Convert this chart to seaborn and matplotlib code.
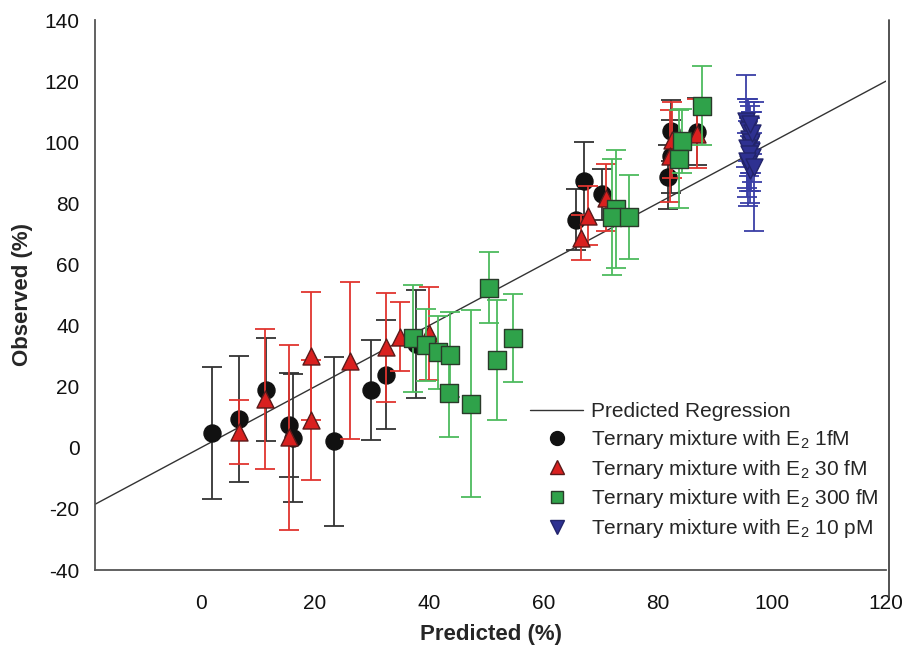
import matplotlib
matplotlib.use("Agg")
import matplotlib.pyplot as plt
from matplotlib.lines import Line2D
import seaborn as sns
import pandas as pd

# ---- data ----
line_x = [-18.5, 120]
line_y = [-18.5, 120]

c1_x = [1.9, 6.8, 11.4, 15.5, 16.2, 23.3, 29.8, 32.4, 37.7, 65.8, 67.2, 70.2, 81.9, 82.3, 82.3, 86.9]
c1_y = [4.8, 9.5, 19.0, 7.5, 3.3, 2.1, 18.9, 23.9, 33.9, 74.7, 87.2, 82.9, 88.6, 95.4, 103.8, 103.4]
c1_e = [21.5, 20.6, 16.9, 17.0, 21.0, 27.6, 16.4, 17.8, 17.6, 10.0, 13.0, 8.4, 10.5, 12.0, 10.0, 11.0]

c30_x = [6.8, 11.3, 15.4, 19.3, 19.3, 26.2, 32.4, 34.9, 39.9, 66.6, 67.9, 70.9, 82.5, 82.2, 86.9]
c30_y = [5.1, 16.0, 3.5, 9.2, 30.1, 28.5, 32.9, 36.4, 37.5, 68.7, 76.0, 81.8, 100.8, 95.4, 102.8]
c30_e = [10.5, 22.8, 30.3, 19.6, 21.0, 25.6, 17.9, 11.2, 15.2, 7.4, 9.6, 11.0, 12.5, 15.0, 11.3]

c300_x = [37.2, 39.5, 41.6, 43.7, 43.5, 47.3, 50.5, 51.9, 54.7, 72.7, 72.0, 75.0, 84.3, 83.8, 87.7]
c300_y = [35.8, 33.7, 31.2, 30.4, 17.9, 14.4, 52.4, 28.8, 36.0, 78.0, 75.6, 75.6, 100.3, 94.5, 112.0]
c300_e = [17.4, 11.7, 11.9, 13.9, 14.4, 30.6, 11.7, 19.6, 14.4, 19.3, 19.0, 13.8, 10.5, 16.0, 13.0]

c10p_x = [95.5, 95.8, 96.0, 96.2, 96.4, 96.6, 95.9, 96.1, 96.3, 95.7, 96.5, 96.0, 95.6, 96.2, 96.8]
c10p_y = [107, 104, 101, 99, 97, 95, 93, 91, 100, 98, 103, 96, 94, 106, 92]
c10p_e = [15, 10, 12, 9, 13, 8, 14, 11, 10, 16, 7, 12, 9, 6, 21]

labels = ["Predicted Regression",
          "Ternary mixture with E$_2$ 1fM",
          "Ternary mixture with E$_2$ 30 fM",
          "Ternary mixture with E$_2$ 300 fM",
          "Ternary mixture with E$_2$ 10 pM"]
x_ticks = [0, 20, 40, 60, 80, 100, 120]
y_ticks = [-40, -20, 0, 20, 40, 60, 80, 100, 120, 140]

# ---- style ----
sns.set_style("white")
plt.rcParams['font.family'] = ['Liberation Sans', 'DejaVu Sans']
plt.rcParams['mathtext.fontset'] = 'custom'
plt.rcParams['mathtext.rm'] = 'Liberation Sans'
plt.rcParams['axes.unicode_minus'] = False

fig = plt.figure(figsize=(9.06, 6.5), dpi=100)
W, H = 906, 650
ax = fig.add_axes([95 / W, 80 / H, (886 - 95) / W, 550 / H])

sns.lineplot(x=line_x, y=line_y, ax=ax, color="#333333", lw=1.0, zorder=2)

series = [
    (c1_x, c1_y, c1_e, "o", "#111111", "#111111", "#333333"),
    (c30_x, c30_y, c30_e, "^", "#d9201f", "#5a1a1a", "#e0352f"),
    (c300_x, c300_y, c300_e, "s", "#2fa24a", "#2a3a2a", "#4dbb5e"),
    (c10p_x, c10p_y, c10p_e, "v", "#2e3191", "#22246a", "#3a3fa6"),
]
z = 3
for xs, ys, es, mk, fc, ec, bc in series:
    ax.errorbar(xs, ys, yerr=es, fmt="none", ecolor=bc, elinewidth=1.3,
                capsize=7, capthick=1.3, zorder=z)
    df = pd.DataFrame({"x": xs, "y": ys})
    sns.scatterplot(data=df, x="x", y="y", ax=ax, marker=mk, s=150,
                    color=fc, edgecolor=ec, linewidth=1.0, zorder=z + 1)
    z += 2

ax.set_xlim(-18.5, 120)
ax.set_ylim(-40, 140)
ax.set_xticks(x_ticks)
ax.set_yticks(y_ticks)
ax.tick_params(axis="both", direction="out", length=7, width=1.2,
               color="#555555", labelsize=15, labelcolor="#111111")
ax.tick_params(axis="x", pad=10)
ax.tick_params(axis="y", pad=4)
for s in ["top", "right"]:
    ax.spines[s].set_visible(False)
for s in ["left", "bottom"]:
    ax.spines[s].set_color("#555555")
    ax.spines[s].set_linewidth(1.3)

ax.set_xlabel("Predicted (%)", fontsize=16, fontweight="bold", labelpad=8)
ax.set_ylabel("Observed (%)", fontsize=16, fontweight="bold", labelpad=8)

# right frame line
fig.add_artist(Line2D([889 / W, 889 / W], [1 - 20 / H, 1 - 598 / H],
                      color="#444444", lw=1.3))

handles = [
    Line2D([], [], color="#333333", lw=1.0),
    Line2D([], [], marker="o", ls="none", ms=10, mfc="#111111", mec="#111111"),
    Line2D([], [], marker="^", ls="none", ms=10, mfc="#d9201f", mec="#5a1a1a"),
    Line2D([], [], marker="s", ls="none", ms=9, mfc="#2fa24a", mec="#2a3a2a"),
    Line2D([], [], marker="v", ls="none", ms=10, mfc="#2e3191", mec="#22246a"),
]
leg = ax.legend(handles, labels, loc="upper left", bbox_to_anchor=(0.54, 0.32),
                frameon=False, fontsize=15, handlelength=2.5, labelspacing=0.32,
                handletextpad=0.4, borderaxespad=0)

fig.savefig("out.png", dpi=100)
